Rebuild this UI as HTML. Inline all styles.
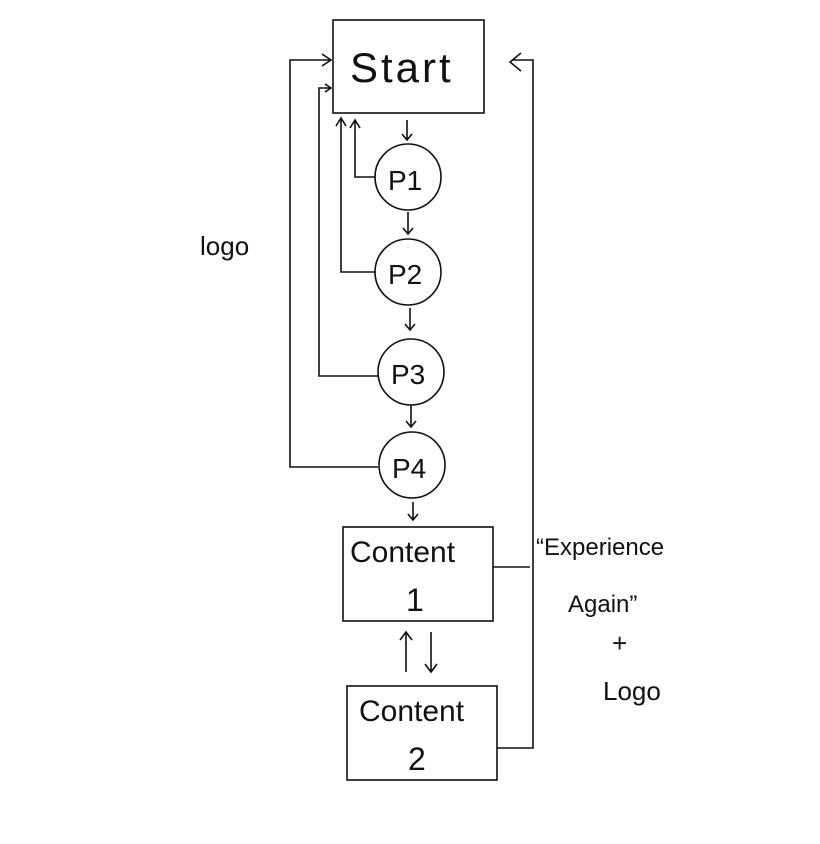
<!DOCTYPE html>
<html><head><meta charset="utf-8"><style>
html,body{margin:0;padding:0;background:#fff;}
svg{display:block;}
text{font-family:"Liberation Sans",sans-serif;fill:#111;}
</style></head><body>
<svg width="820" height="844" viewBox="0 0 820 844" xmlns="http://www.w3.org/2000/svg">
<g fill="none" stroke="#111" stroke-width="1.6">
<rect x="333" y="20" width="151" height="93"/>
<circle cx="408" cy="177" r="33"/>
<circle cx="408" cy="272" r="33"/>
<circle cx="411" cy="372" r="33"/>
<circle cx="412" cy="465" r="33"/>
<rect x="343" y="527" width="150" height="94"/>
<rect x="347" y="686" width="150" height="94"/>
<path d="M407 120V140M402 134L407 140L412 134"/>
<path d="M408 212V234M403 228L408 234L413 228"/>
<path d="M410 308V330M405 324L410 330L415 324"/>
<path d="M411 405V427M406 421L411 427L416 421"/>
<path d="M413 502V520M408 514L413 520L418 514"/>
<path d="M406 672V632M400 640L406 632L412 640"/>
<path d="M431 632V672M425 664L431 672L437 664"/>
<path d="M375 177H355V120M350 128L355 120L360 128"/>
<path d="M375 272H341V118M336 126L341 118L346 126"/>
<path d="M378 376H319V88H331M325 84L331 88L325 92"/>
<path d="M378 467H290V60H331M322 54L331 60L322 66"/>
<path d="M497 748H533V60H513M521 53L510 62L521 71"/>
<path d="M493 567H530"/>
</g>
<text x="350" y="82" font-size="42" letter-spacing="3">Start</text>
<text x="388" y="190" font-size="28">P1</text>
<text x="388" y="284" font-size="28">P2</text>
<text x="391" y="384" font-size="28">P3</text>
<text x="392" y="478" font-size="28">P4</text>
<text x="350" y="562" font-size="30">Content</text>
<text x="406" y="611" font-size="32">1</text>
<text x="359" y="721" font-size="30">Content</text>
<text x="408" y="770" font-size="32">2</text>
<text x="200" y="255" font-size="26">logo</text>
<text x="536" y="555" font-size="24">“Experience</text>
<text x="568" y="612" font-size="24">Again”</text>
<text x="612" y="652" font-size="26">+</text>
<text x="603" y="700" font-size="26">Logo</text>
</svg>
</body></html>
